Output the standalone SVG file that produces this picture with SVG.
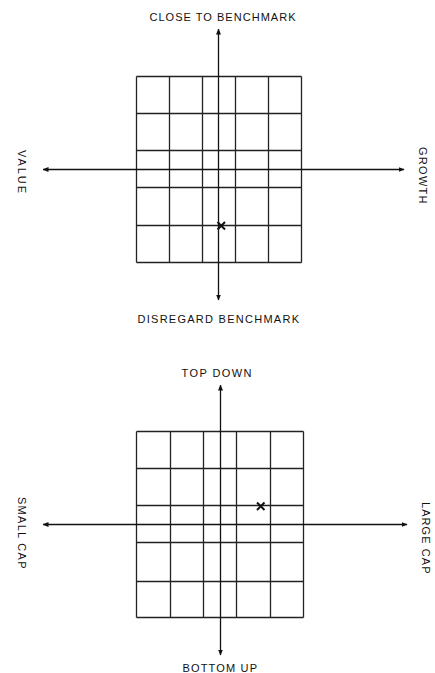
<svg xmlns="http://www.w3.org/2000/svg" width="435" height="673" viewBox="0 0 435 673">
<style>
.g{stroke:#222;stroke-width:1.3;fill:none}
.ax{stroke:#111;stroke-width:1.3;fill:none}
.t{font-family:"Liberation Sans","DejaVu Sans",sans-serif;font-size:11px;fill:#111}
.x{stroke:#111;stroke-width:2;fill:none}
</style>
<defs>
<marker id="ah" viewBox="0 0 6 6" refX="5.5" refY="3" markerWidth="6" markerHeight="6" markerUnits="userSpaceOnUse" orient="auto">
<path d="M0,0.5 L6,3 L0,5.5 Z" fill="#111"/>
</marker>
</defs>
<rect width="435" height="673" fill="#fff"/>

<g id="grid-top">
<path class="g" d="M136.5,76.5H301.5M136.5,113.5H301.5M136.5,150.5H301.5M136.5,187.5H301.5M136.5,225.5H301.5M136.5,262.5H301.5M136.5,76.5V262.5M169.5,76.5V262.5M202.5,76.5V262.5M235.5,76.5V262.5M268.5,76.5V262.5M301.5,76.5V262.5"/>
<path class="x" d="M217.5,222L225,229.5M225,222L217.5,229.5"/>
</g>

<g id="grid-bottom">
<path class="g" d="M136.5,431.5H303.5M136.5,468.5H303.5M136.5,505.5H303.5M136.5,542.5H303.5M136.5,581.5H303.5M136.5,617.5H303.5M136.5,431.5V617.5M170.5,431.5V617.5M203.5,431.5V617.5M236.5,431.5V617.5M270.5,431.5V617.5M303.5,431.5V617.5"/>
<path class="x" d="M257,502.5L264.5,510M264.5,502.5L257,510"/>
</g>

<g id="connectors">
<line class="ax" x1="218.5" y1="170" x2="218.5" y2="29" marker-end="url(#ah)"/>
<line class="ax" x1="218.5" y1="170" x2="218.5" y2="300" marker-end="url(#ah)"/>
<line class="ax" x1="218.5" y1="169.5" x2="43" y2="169.5" marker-end="url(#ah)"/>
<line class="ax" x1="218.5" y1="169.5" x2="404" y2="169.5" marker-end="url(#ah)"/>
<line class="ax" x1="220.5" y1="525" x2="220.5" y2="385" marker-end="url(#ah)"/>
<line class="ax" x1="220.5" y1="525" x2="220.5" y2="655" marker-end="url(#ah)"/>
<line class="ax" x1="220.5" y1="524.5" x2="43" y2="524.5" marker-end="url(#ah)"/>
<line class="ax" x1="220.5" y1="524.5" x2="407" y2="524.5" marker-end="url(#ah)"/>
</g>

<g id="label-close"><text class="t" x="149.5" y="20.5" textLength="146" lengthAdjust="spacing">CLOSE TO BENCHMARK</text></g>
<g id="label-disregard"><text class="t" x="137.5" y="322.5" textLength="161.5" lengthAdjust="spacing">DISREGARD BENCHMARK</text></g>
<g id="label-value"><text class="t" transform="translate(17.5,150) rotate(90)" textLength="43" lengthAdjust="spacing">VALUE</text></g>
<g id="label-growth"><text class="t" transform="translate(418.5,147) rotate(90)" textLength="56.5" lengthAdjust="spacing">GROWTH</text></g>
<g id="label-topdown"><text class="t" x="181.5" y="376.5" textLength="70" lengthAdjust="spacing">TOP DOWN</text></g>
<g id="label-bottomup"><text class="t" x="182.5" y="671.5" textLength="74.5" lengthAdjust="spacing">BOTTOM UP</text></g>
<g id="label-smallcap"><text class="t" transform="translate(17.5,497) rotate(90)" textLength="71.5" lengthAdjust="spacing">SMALL CAP</text></g>
<g id="label-largecap"><text class="t" transform="translate(422,502) rotate(90)" textLength="71.5" lengthAdjust="spacing">LARGE CAP</text></g>
</svg>
